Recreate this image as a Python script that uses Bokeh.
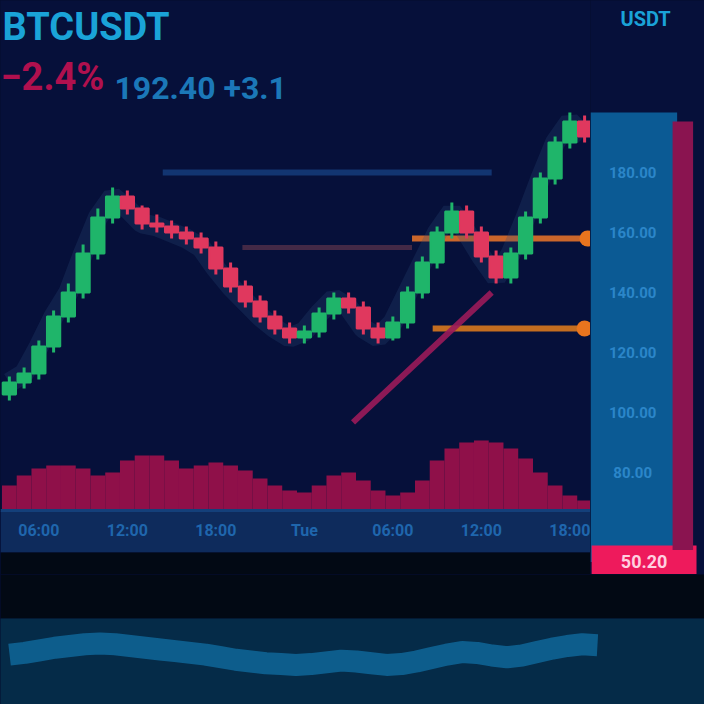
from bokeh.plotting import figure
from bokeh.layouts import column, row
from bokeh.models import Range1d, Label, ColumnDataSource, BoxAnnotation
from bokeh.embed import file_html
from bokeh.resources import INLINE
from bokeh.core.properties import value

# ---------------- data ----------------
OPENS = [106, 110, 113, 122, 132, 140, 153, 165, 172, 168, 163, 162, 160, 158, 155, 148, 142, 137, 132, 128,
         125, 127, 133, 138, 135, 128, 125, 130, 140, 150, 160, 167, 160, 152, 145, 153, 165, 178, 190, 197]
CLOSES = [110, 113, 122, 132, 140, 153, 165, 172, 168, 163, 162, 160, 158, 155, 148, 142, 137, 132, 128, 125,
          127, 133, 138, 135, 128, 125, 130, 140, 150, 160, 167, 160, 152, 145, 153, 165, 178, 190, 197, 192]
HIGHS = [112, 115, 124, 134, 143, 156, 168, 175, 174, 169, 166, 164, 162, 160, 157, 150, 144, 139, 134, 130,
         129, 135, 140, 140, 137, 130, 132, 142, 152, 162, 170, 169, 162, 154, 155, 167, 180, 192, 200, 199]
LOWS = [104, 108, 111, 120, 130, 138, 151, 163, 166, 161, 160, 158, 156, 153, 146, 140, 135, 130, 126, 123,
        123, 125, 131, 133, 126, 123, 124, 128, 138, 148, 158, 158, 150, 143, 143, 151, 163, 176, 188, 190]
VOLUMES = [25, 35, 42, 45, 45, 42, 35, 38, 50, 55, 55, 50, 42, 45, 48, 45, 40, 32, 25, 20,
           18, 25, 35, 38, 30, 20, 15, 18, 30, 50, 62, 68, 70, 68, 62, 52, 38, 25, 15, 10]

LEVEL_PRICES = [180, 155, 158, 128]
LEVEL_FROM = [10.4, 15.8, 27.3, 28.7]
LEVEL_TO = [32.7, 27.3, 39.2, 39.0]

TREND_X = [23.3, 32.7]
TREND_Y = [96.7, 140.0]

TIME_TICKS = [2, 8, 14, 20, 26, 32, 38]
TIME_LABELS = ["06:00", "12:00", "18:00", "Tue", "06:00", "12:00", "18:00"]
AXIS_PRICE = 67.33      # price level of the time axis line
AXIS_BAND_LOW = 53.3    # lower edge of the time-axis band

PRICE_TICKS = [80, 100, 120, 140, 160, 180]
PRICE_LABELS = ["80.00", "100.00", "120.00", "140.00", "160.00", "180.00"]
SCALE_TOP = 200
LAST_PRICE = 50.20

INDICATOR = [58, 60, 63, 66, 68, 70, 71, 70, 68, 66, 64, 62, 60, 58, 55, 52, 50, 48, 47, 46,
             47, 49, 51, 50, 48, 46, 47, 50, 54, 58, 61, 60, 57, 55, 57, 61, 65, 68, 70, 69]

# ---------------- styles ----------------
BG = "#06103a"
BORDER = "#050c2c"
SCALE_BLUE = "#0b5a94"
AXIS_BAND = "#0e2b5c"
DARK = "#020914"
UP = "#1fb56a"
DOWN = "#e0385e"
LEVEL_COLORS = ["#143a78", "#4a2c48", "#e0702a", "#d8781e"]
LEVEL_WIDTHS = [6, 5, 6, 6]
FONT = "Roboto"

n = len(CLOSES)
idx = list(range(n))
colors = [UP if c >= o else DOWN for o, c in zip(OPENS, CLOSES)]
top = [max(o, c) for o, c in zip(OPENS, CLOSES)]
bot = [min(o, c) for o, c in zip(OPENS, CLOSES)]
src = ColumnDataSource(dict(x=idx, o=OPENS, c=CLOSES, h=HIGHS, l=LOWS, top=top, bot=bot,
                            color=colors, vol=VOLUMES))

price_range = Range1d(46.0, 237.33)

# ---------------- main chart ----------------
main = figure(width=590, height=574, output_backend="svg", toolbar_location=None,
              x_range=Range1d(-0.6, 39.4), y_range=price_range,
              min_border_left=0, min_border_right=0, min_border_top=0, min_border_bottom=0,
              background_fill_color=BG, border_fill_color=BORDER, outline_line_color=None)
main.extra_y_ranges = {"vol": Range1d(-64, 510)}
main.axis.visible = False
main.grid.visible = False

# time axis band
main.add_layout(BoxAnnotation(top=AXIS_PRICE, bottom=AXIS_BAND_LOW, fill_color=AXIS_BAND,
                              fill_alpha=1.0, line_color=None, level="underlay"))
main.add_layout(BoxAnnotation(top=AXIS_BAND_LOW, fill_color=DARK, fill_alpha=1.0,
                              line_color=None, level="underlay"))

# volume
main.vbar(x="x", top="vol", bottom=0, width=1.0, source=src, y_range_name="vol",
          fill_color="#a8104c", line_color=None, fill_alpha=0.85)

# levels
for p_, f_, t_, c_, w_ in zip(LEVEL_PRICES, LEVEL_FROM, LEVEL_TO, LEVEL_COLORS, LEVEL_WIDTHS):
    main.segment(x0=[f_], y0=[p_], x1=[t_], y1=[p_], line_color=c_, line_width=w_, line_alpha=0.9)
main.scatter(x=[LEVEL_TO[2], LEVEL_TO[3]], y=[LEVEL_PRICES[2], LEVEL_PRICES[3]], size=16,
             fill_color="#e8741e", line_color=None)

# trend line
main.line(x=TREND_X, y=TREND_Y, line_color="#9b1b5a", line_width=6, line_alpha=0.9)

# glow under candles
main.line(x=idx, y=CLOSES, line_color="#2a4a7a", line_width=20, line_alpha=0.25)

# candles
main.segment(x0="x", y0="h", x1="x", y1="l", line_color="color", line_width=3, source=src)
main.vbar(x="x", top="top", bottom="bot", width=0.9, fill_color="color", line_color="color",
          line_width=2, source=src)

# time axis (line, labels)
main.segment(x0=[-0.6], y0=[AXIS_PRICE], x1=[39.4], y1=[AXIS_PRICE], line_color="#14407a", line_width=3)
main.text(x=TIME_TICKS, y=[AXIS_PRICE - 6.5] * len(TIME_TICKS), text=TIME_LABELS,
          text_align="center", text_baseline="middle", text_color="#1f66ad",
          text_font_size="16px", text_font=value(FONT), text_font_style="bold")

main.add_layout(Label(x=2, y=570, x_units="screen", y_units="screen", text="BTCUSDT",
                      text_baseline="top", text_color="#1aa3d8", text_font_size="38px",
                      text_font_style="bold", text_font=FONT))
main.add_layout(Label(x=0, y=520, x_units="screen", y_units="screen", text="−2.4%",
                      text_baseline="top", text_color="#b0104e", text_font_size="38px",
                      text_font_style="bold", text_font=FONT))
main.add_layout(Label(x=114, y=506, x_units="screen", y_units="screen", text="192.40 +3.1",
                      text_baseline="top", text_color="#1b78b8", text_font_size="32px",
                      text_font_style="bold", text_font=FONT))

# ---------------- price scale panel ----------------
panel = figure(width=114, height=574, output_backend="svg", toolbar_location=None,
               x_range=Range1d(0, 1), y_range=price_range,
               min_border_left=0, min_border_right=0, min_border_top=0, min_border_bottom=0,
               background_fill_color=BG, border_fill_color=BORDER, outline_line_color=None)
panel.axis.visible = False
panel.grid.visible = False
panel.add_layout(BoxAnnotation(top=SCALE_TOP, bottom=LAST_PRICE, right=0.76, fill_color=SCALE_BLUE,
                               fill_alpha=1.0, line_color=None, level="underlay"))
panel.add_layout(BoxAnnotation(top=SCALE_TOP - 3, bottom=LAST_PRICE + 4, left=0.72, right=0.90,
                               fill_color="#8a1450", fill_alpha=1.0, line_color=None))
panel.text(x=[0.37] * len(PRICE_TICKS), y=PRICE_TICKS, text=PRICE_LABELS, text_align="center",
           text_baseline="middle", text_color="#2b86c9", text_font_size="15px",
           text_font=value(FONT), text_font_style="bold")
panel.rect(x=[0.47], y=[LAST_PRICE], width=0.92, height=11, fill_color="#ee1a5c", line_color=None)
panel.text(x=[0.47], y=[LAST_PRICE], text=[f"{LAST_PRICE:.2f}"], text_align="center",
           text_baseline="middle", text_color="#ffd0e0", text_font_size="18px",
           text_font=value(FONT), text_font_style="bold")
panel.add_layout(Label(x=30, y=568, x_units="screen", y_units="screen", text="USDT",
                       text_baseline="top", text_color="#1aa3d8", text_font_size="20px",
                       text_font_style="bold", text_font=FONT))

# ---------------- indicator pane ----------------
bottom = figure(width=704, height=130, output_backend="svg", toolbar_location=None,
                x_range=Range1d(-0.6, 46.1), y_range=Range1d(0, 100),
                min_border_left=0, min_border_right=0, min_border_top=44, min_border_bottom=0,
                background_fill_color="#052b48", border_fill_color=DARK, outline_line_color=None)
bottom.axis.visible = False
bottom.grid.visible = False
bottom.line(x=idx, y=INDICATOR, line_color="#0e6393", line_width=22, line_alpha=0.9)

layout = column(row(main, panel, spacing=0, styles={"background-color": BORDER}),
                bottom, spacing=0, styles={"background-color": BORDER})

open("out.html", "w").write(file_html(layout, INLINE))
